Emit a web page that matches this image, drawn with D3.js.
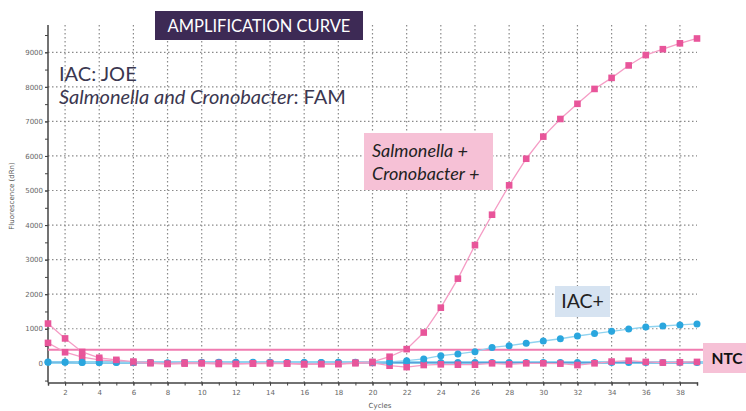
<!DOCTYPE html>
<html><head><meta charset="utf-8">
<script src="https://cdn.jsdelivr.net/npm/d3@7"></script>
<style>body{margin:0;background:#fff;}svg{display:block;}</style>
</head><body><svg id="c" width="746" height="411"></svg>
<script>
const cycles = d3.range(1, 40);
const salmonellaPos = [1150,720,330,160,100,50,20,-10,20,10,10,-20,0,10,0,-20,-20,-20,20,40,190,410,890,1610,2450,3420,4300,5150,5920,6560,7070,7510,7940,8260,8620,8920,9090,9260,9400];
const ntcPink = [590,320,180,100,60,20,0,-20,-10,0,-20,-10,-10,0,-10,-30,-20,-20,0,10,-70,-110,-50,-30,-40,-40,0,-30,0,0,-10,-50,0,50,75,40,20,30,40];
const iacPos = [40,40,30,20,30,30,20,10,20,20,30,30,30,30,20,20,20,30,30,30,40,75,125,220,270,335,460,510,580,645,710,790,860,925,990,1050,1080,1110,1140];
const ntcBlue = [30,30,20,20,20,20,20,10,20,20,20,20,20,20,20,20,20,20,20,20,20,20,20,20,20,20,20,20,20,20,20,20,20,20,20,20,20,20,20];
const xMajorTicks = d3.range(2, 39, 2);
const xMinorTicks = d3.range(1, 40);
const yMajorTicks = d3.range(0, 9001, 1000);
const yMinorTicks = d3.range(-500, 9501, 500);
const pinkThreshold = 390;
const blueThreshold = 25;

const svg = d3.select('#c');
const x = d3.scaleLinear().domain([1, 39]).range([48, 697]);
const y = d3.scaleLinear().domain([0, 9000]).range([363.3, 52.3]);
const yBottom = 382.5, yTop = 25;

// grid
const g = svg.append('g');
g.selectAll('line.hg').data(yMajorTicks).join('line')
  .attr('x1', x(1)).attr('x2', x(39)).attr('y1', d => y(d)).attr('y2', d => y(d))
  .attr('stroke', '#8a8a8a').attr('stroke-width', 1.2).attr('stroke-dasharray', '1.5,2.5');
g.selectAll('line.vg').data(xMajorTicks).join('line')
  .attr('x1', d => x(d)).attr('x2', d => x(d)).attr('y1', yTop).attr('y2', yBottom)
  .attr('stroke', '#8a8a8a').attr('stroke-width', 1.2).attr('stroke-dasharray', '1.5,2.5');

// axes
const xAxisMinor = d3.axisBottom(x).tickValues(xMinorTicks).tickSize(3).tickFormat('');
const xAxis = d3.axisBottom(x).tickValues(xMajorTicks).tickSize(3).tickPadding(5);
svg.append('g').attr('transform', `translate(0,${yBottom})`).call(xAxisMinor)
  .call(s => s.select('.domain').attr('stroke', '#444').attr('stroke-width', 1.5))
  .call(s => s.selectAll('.tick line').attr('stroke', '#444'));
svg.append('g').attr('transform', `translate(0,${yBottom})`).call(xAxis)
  .call(s => s.select('.domain').remove())
  .call(s => s.selectAll('.tick line').attr('stroke', '#444'))
  .call(s => s.selectAll('text').attr('fill', '#666').attr('font-size', 7).attr('font-family', 'DejaVu Sans'));

const yAxisMinor = d3.axisLeft(y).tickValues(yMinorTicks).tickSize(3).tickFormat('');
const yAxis = d3.axisLeft(y).tickValues(yMajorTicks).tickSize(3).tickPadding(2).tickFormat(d3.format('d'));
svg.append('g').attr('transform', 'translate(48,0)').call(yAxisMinor)
  .call(s => s.select('.domain').attr('d', `M0,${yTop}V${yBottom}`).attr('stroke', '#444').attr('stroke-width', 1.5))
  .call(s => s.selectAll('.tick line').attr('stroke', '#444'));
svg.append('g').attr('transform', 'translate(48,0)').call(yAxis)
  .call(s => s.select('.domain').remove())
  .call(s => s.selectAll('.tick line').attr('stroke', '#444'))
  .call(s => s.selectAll('text').attr('fill', '#666').attr('font-size', 7).attr('font-family', 'DejaVu Sans'));

svg.append('text').attr('x', 380).attr('y', 408).attr('text-anchor', 'middle')
  .attr('font-family', 'DejaVu Sans').attr('font-size', 7).attr('fill', '#555').text('Cycles');
svg.append('text').attr('transform', 'translate(14,196) rotate(-90)').attr('text-anchor', 'middle')
  .attr('font-family', 'DejaVu Sans').attr('font-size', 7).attr('fill', '#555').text('Fluorescence (dRn)');

// thresholds
svg.append('line').attr('x1', x(1)).attr('x2', 704).attr('y1', y(pinkThreshold)).attr('y2', y(pinkThreshold))
  .attr('stroke', '#f07bb0').attr('stroke-width', 2);
svg.append('line').attr('x1', x(1)).attr('x2', 704).attr('y1', y(blueThreshold)).attr('y2', y(blueThreshold))
  .attr('stroke', '#8fd6f2').attr('stroke-width', 3);

// series
const line = d3.line().x((d, i) => x(cycles[i])).y(d => y(d));
function drawSquares(data, lineColor, fill) {
  svg.append('path').datum(data).attr('d', line).attr('fill', 'none').attr('stroke', lineColor).attr('stroke-width', 1.3);
  svg.append('g').selectAll('rect').data(data).join('rect')
    .attr('x', (d, i) => x(cycles[i]) - 3.3).attr('y', d => y(d) - 3.3)
    .attr('width', 6.6).attr('height', 6.6).attr('fill', fill);
}
function drawCircles(data, lineColor, fill) {
  svg.append('path').datum(data).attr('d', line).attr('fill', 'none').attr('stroke', lineColor).attr('stroke-width', 1.3);
  svg.append('g').selectAll('circle').data(data).join('circle')
    .attr('cx', (d, i) => x(cycles[i])).attr('cy', d => y(d)).attr('r', 3.5).attr('fill', fill);
}
drawCircles(ntcBlue, '#5aa0d8', '#2aa6de');
drawSquares(ntcPink, '#f59cc5', '#e8559a');
drawCircles(iacPos, '#8fd3f0', '#2aa6de');
drawSquares(salmonellaPos, '#f59cc5', '#e8559a');

// title
svg.append('rect').attr('x', 155).attr('y', 11).attr('width', 208).attr('height', 29).attr('fill', '#3d2a55');
svg.append('text').attr('x', 259).attr('y', 32).attr('text-anchor', 'middle').attr('fill', '#fff')
  .attr('font-family', 'Lato').attr('font-size', 16.5).text('AMPLIFICATION CURVE');

// key text
svg.append('text').attr('x', 59).attr('y', 81).attr('font-family', 'Lato').attr('font-size', 20).attr('fill', '#3b3750').text('IAC: JOE');
const t2 = svg.append('text').attr('x', 59).attr('y', 104).attr('font-family', 'Lato').attr('font-size', 20).attr('fill', '#3b3750');
t2.append('tspan').attr('font-style', 'italic').text('Salmonella and Cronobacter');
t2.append('tspan').text(': FAM');

// labels
svg.append('rect').attr('x', 364).attr('y', 133).attr('width', 129).attr('height', 57).attr('fill', '#f6c1d6');
svg.append('text').attr('x', 372).attr('y', 157).attr('font-family', 'Lato').attr('font-style', 'italic').attr('font-size', 18).attr('fill', '#222').text('Salmonella +');
svg.append('text').attr('x', 372).attr('y', 180).attr('font-family', 'Lato').attr('font-style', 'italic').attr('font-size', 18).attr('fill', '#222').text('Cronobacter +');

svg.append('rect').attr('x', 555).attr('y', 286).attr('width', 55).attr('height', 31).attr('fill', '#d6e3f1');
svg.append('text').attr('x', 582.5).attr('y', 308).attr('text-anchor', 'middle').attr('font-family', 'Lato').attr('font-size', 19.5).attr('fill', '#222').text('IAC+');

svg.append('rect').attr('x', 703).attr('y', 343).attr('width', 43).attr('height', 30).attr('fill', '#f6c1d6');
svg.append('text').attr('x', 727).attr('y', 364).attr('text-anchor', 'middle').attr('font-family', 'Lato').attr('font-weight', 'bold').attr('font-size', 15.5).attr('fill', '#111').text('NTC');
</script></body></html>
